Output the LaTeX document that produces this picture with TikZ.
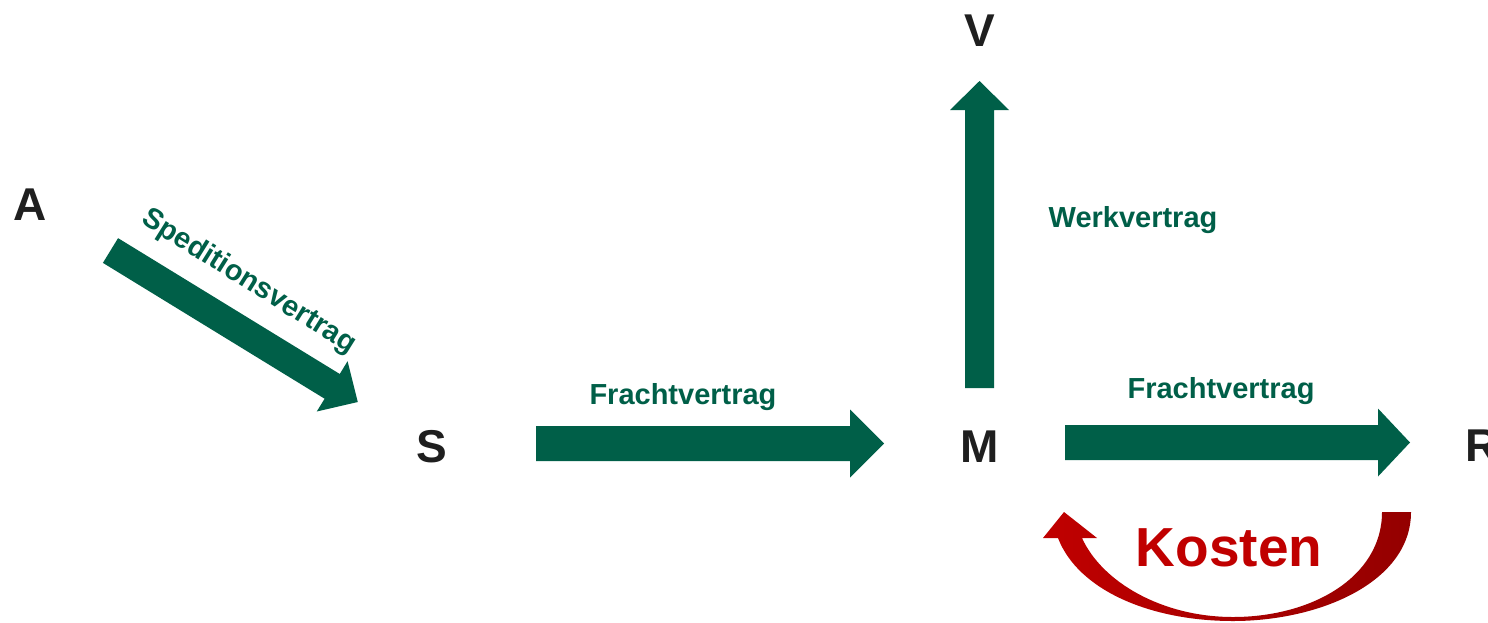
\documentclass[tikz,border=0pt]{standalone}
\usepackage{fontspec}
\setmainfont{Liberation Sans}
\definecolor{vgreen}{RGB}{0,95,72}
\definecolor{kred}{RGB}{192,0,0}
\definecolor{kdark}{RGB}{148,0,0}
\tikzset{
  letter/.style={font=\fontsize{46}{46}\selectfont\bfseries, text=black!88, inner sep=0pt, anchor=base},
  lbl/.style={font=\fontsize{29}{29}\selectfont\bfseries, text=vgreen, inner sep=0pt, anchor=base},
  kosten/.style={font=\fontsize{55}{55}\selectfont\bfseries, text=kred, inner sep=0pt, anchor=base},
  blockfill/.style={fill=vgreen, draw=none},
}
% #1 length, #2 shaft width, #3 head width, #4 head length
\newcommand\blockarr[4]{%
  \fill[blockfill] (0,{-#2/2}) -- ({#1-#4},{-#2/2}) -- ({#1-#4},{-#3/2}) -- (#1,0)
    -- ({#1-#4},{#3/2}) -- ({#1-#4},{#2/2}) -- (0,{#2/2}) -- cycle;}
\begin{document}
\begin{tikzpicture}[x=1pt,y=-1pt]
\useasboundingbox (0,0) rectangle (1488,622);
% letters
\node[letter] (A) at (30,220) {A};
\node[letter] (S) at (431.5,462) {S};
\node[letter] (M) at (979.5,462) {M};
\node[letter] (V) at (979.5,46) {V};
\node[letter, anchor=base west] (R) at (1465,461) {R};
% arrows
\begin{scope}[shift={(110.5,250.5)}, rotate=-31.5]
  \blockarr{290}{29}{59}{30}
\end{scope}
\begin{scope}[shift={(536,443.5)}]
  \blockarr{348}{35}{68}{34}
\end{scope}
\begin{scope}[shift={(1065,442.5)}]
  \blockarr{345}{35}{68}{32}
\end{scope}
\begin{scope}[shift={(979.5,388)}, rotate=90]
  \blockarr{307}{29}{59}{29}
\end{scope}
% labels
\node[lbl, anchor=center, rotate=-32] (sv) at (249,282) {Speditionsvertrag};
\node[lbl] (f1) at (683,404) {Frachtvertrag};
\node[lbl] (wv) at (1133,227) {Werkvertrag};
\node[lbl] (f2) at (1221,398) {Frachtvertrag};
\node[kosten] (k) at (1229,566) {Kosten};
% curved cost arrow
\shade[left color=kred, right color=kdark]
  (1411,512) .. controls (1411,582) and (1320,621) .. (1233,621)
  .. controls (1150,621) and (1078,590) .. (1058,538)
  -- (1043,538) -- (1064,512) -- (1097,538) -- (1082,538)
  .. controls (1102,582) and (1162,617) .. (1233,617)
  .. controls (1312,617) and (1382,577) .. (1382,512) -- cycle;
\end{tikzpicture}
\end{document}
